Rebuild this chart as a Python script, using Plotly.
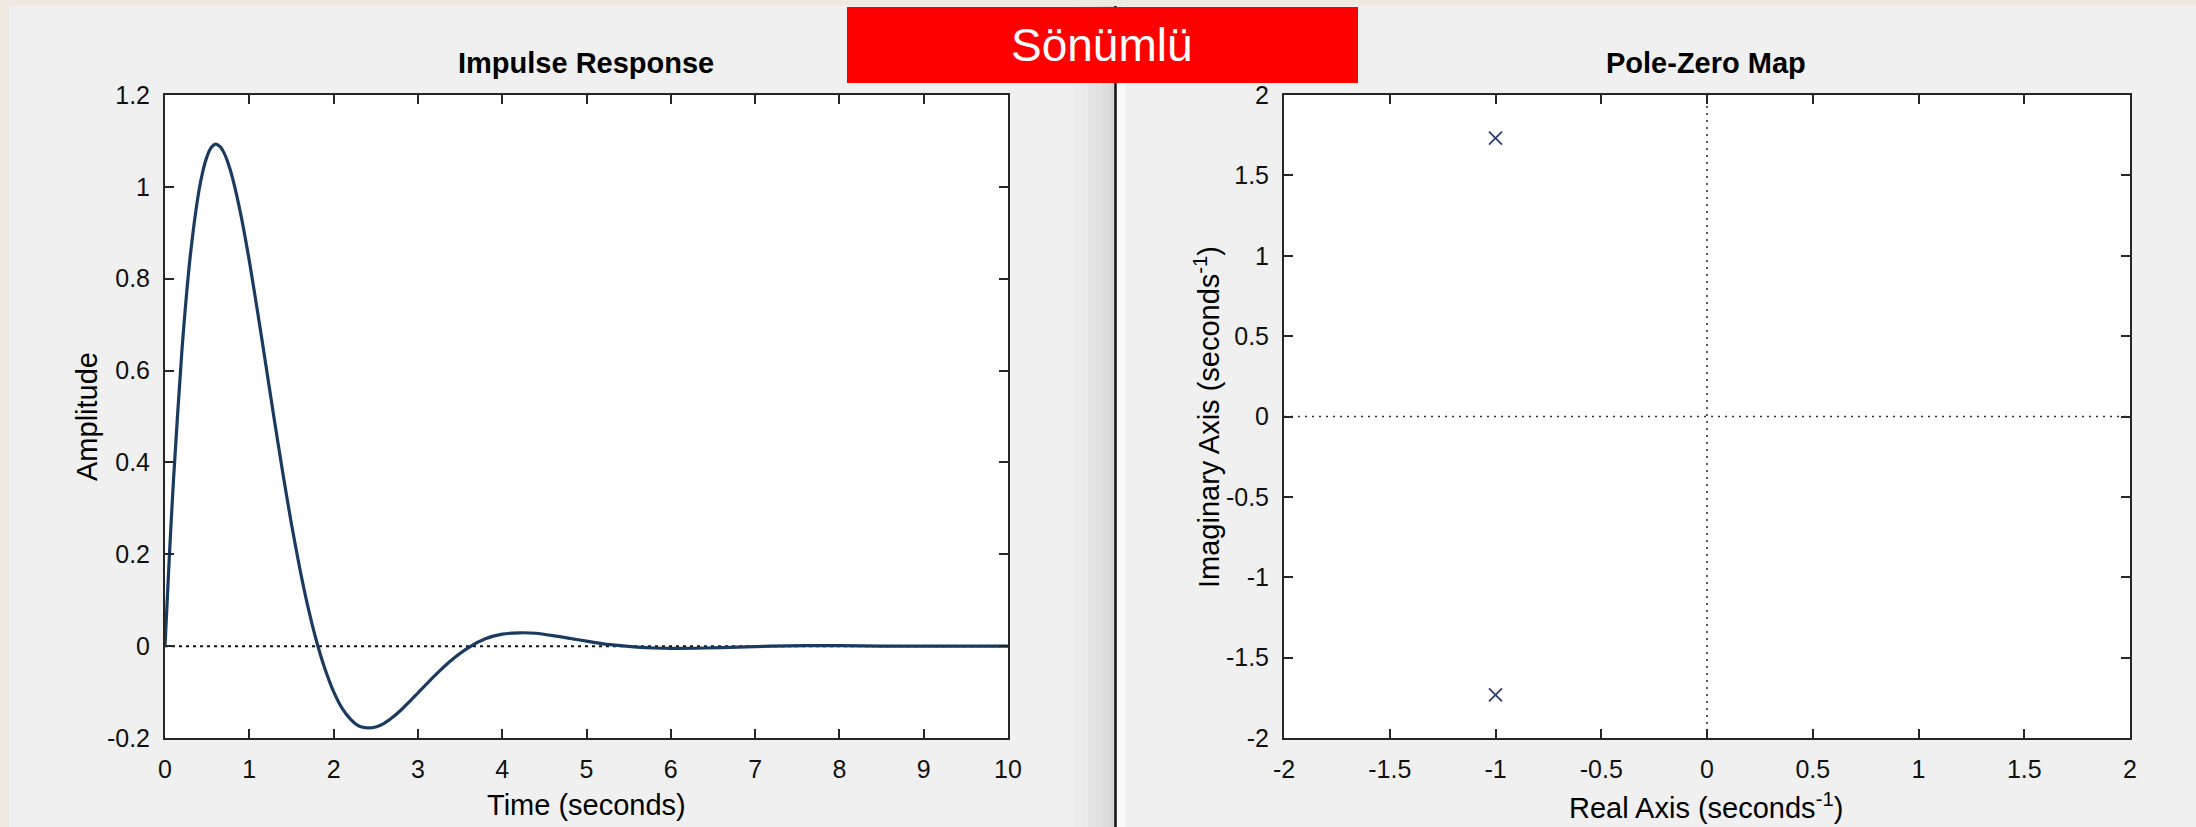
import plotly.graph_objects as go

# ---------------- data ----------------
t_vals = [0.0, 0.05, 0.1, 0.2, 0.3, 0.4, 0.45, 0.5, 0.55, 0.6, 0.65, 0.7, 0.75, 0.8, 0.9,
          1.0, 1.1, 1.2, 1.3, 1.4,
          1.5, 1.6, 1.7, 1.8, 1.9, 2.0, 2.1, 2.2, 2.3, 2.4, 2.5, 2.6, 2.7, 2.8, 2.9,
          3.0, 3.2, 3.4, 3.6, 3.8, 4.0, 4.2, 4.4, 4.6, 4.8, 5.0, 5.2, 5.4, 5.6, 5.8,
          6.0, 6.4, 6.8, 7.2, 7.6, 8.0, 8.5, 9.0, 9.5, 10.0]
amplitude = [0.0, 0.190, 0.360, 0.642, 0.850, 0.989, 1.035, 1.067, 1.086, 1.093, 1.088,
             1.074, 1.051, 1.020, 0.939,
             0.839, 0.726, 0.608, 0.489, 0.374, 0.266, 0.168, 0.082, 0.009, -0.051,
             -0.099, -0.135, -0.159, -0.174, -0.178, -0.176, -0.168, -0.155, -0.139,
             -0.121, -0.102, -0.064, -0.030, -0.003, 0.016, 0.026, 0.029, 0.028,
             0.023, 0.017, 0.011, 0.005, 0.001, -0.002, -0.004, -0.005, -0.004,
             -0.002, 0.000, 0.001, 0.001, 0.000, 0.000, 0.000, 0.000]

pole_real = [-1.0, -1.0]
pole_imag = [1.732, -1.732]

imp_xticks = [0, 1, 2, 3, 4, 5, 6, 7, 8, 9, 10]
imp_xlabels = ["0", "1", "2", "3", "4", "5", "6", "7", "8", "9", "10"]
imp_yticks = [-0.2, 0, 0.2, 0.4, 0.6, 0.8, 1.0, 1.2]
imp_ylabels = ["-0.2", "0", "0.2", "0.4", "0.6", "0.8", "1", "1.2"]
pz_ticks = [-2, -1.5, -1, -0.5, 0, 0.5, 1, 1.5, 2]
pz_labels = ["-2", "-1.5", "-1", "-0.5", "0", "0.5", "1", "1.5", "2"]

title_left = "Impulse Response"
title_right = "Pole-Zero Map"
banner_text = "Sönümlü"

# ---------------- figure ----------------
W, H = 2196, 827
FONT = "Arial, Liberation Sans, Helvetica, sans-serif"

def px(x):
    return x / W

def py(y):
    return 1 - y / H

fig = go.Figure()

fig.add_trace(go.Scatter(
    x=t_vals, y=amplitude, mode="lines",
    line=dict(color="#1b3a60", width=3.2, shape="spline", smoothing=0.6),
    xaxis="x", yaxis="y", showlegend=False, hoverinfo="skip"))

fig.add_trace(go.Scatter(
    x=pole_real, y=pole_imag, mode="markers",
    marker=dict(symbol="x-thin", size=13, line=dict(color="#2b3d6e", width=1.8), color="#2b3d6e"),
    xaxis="x2", yaxis="y2", showlegend=False, hoverinfo="skip"))

axis_common = dict(
    showgrid=False, zeroline=False, showline=True, linecolor="#262626", linewidth=2,
    mirror="ticks", ticks="inside", ticklen=9, tickwidth=1.6, tickcolor="#262626",
    tickmode="array", tickfont=dict(family=FONT, size=25, color="#111111"),
    ticklabelstandoff=8, fixedrange=True, automargin=False,
)

ydom = [py(738), py(95)]

fig.update_layout(
    template="none",
    width=W, height=H,
    margin=dict(l=0, r=0, t=0, b=0, pad=0, autoexpand=False),
    paper_bgcolor="#F0F0F0",
    plot_bgcolor="#FFFFFF",
    xaxis=dict(domain=[px(165), px(1008)], range=[0, 10], tickvals=imp_xticks, ticktext=imp_xlabels,
               anchor="y", **axis_common),
    yaxis=dict(domain=ydom, range=[-0.2, 1.2], tickvals=imp_yticks, ticktext=imp_ylabels,
               anchor="x", **axis_common),
    xaxis2=dict(domain=[px(1284), px(2130)], range=[-2, 2], tickvals=pz_ticks, ticktext=pz_labels,
                anchor="y2", **axis_common),
    yaxis2=dict(domain=ydom, range=[-2, 2], tickvals=pz_ticks, ticktext=pz_labels,
                anchor="x2", **axis_common),
)

shapes = []
# beige window frame (top and left strips)
shapes.append(dict(type="rect", xref="paper", yref="paper", x0=0, x1=1, y0=py(6), y1=1,
                   fillcolor="#EEEAE2", line=dict(width=0), layer="below"))
shapes.append(dict(type="rect", xref="paper", yref="paper", x0=0, x1=px(9), y0=0, y1=1,
                   fillcolor="#EEEAE2", line=dict(width=0), layer="below"))
# splitter shading
shade = ["#EDEDED", "#EAEAEA", "#E6E6E6", "#E2E2E2", "#DDDDDD", "#D7D7D7"]
x_start = 1074
step = 7
for i, c in enumerate(shade):
    shapes.append(dict(type="rect", xref="paper", yref="paper",
                       x0=px(x_start + i * step), x1=px(x_start + (i + 1) * step),
                       y0=0, y1=py(6), fillcolor=c, line=dict(width=0), layer="below"))
shapes.append(dict(type="rect", xref="paper", yref="paper", x0=px(1117), x1=px(1126),
                   y0=0, y1=py(6), fillcolor="#F9F9F9", line=dict(width=0), layer="below"))
# splitter line
shapes.append(dict(type="line", xref="paper", yref="paper", x0=px(1115.5), x1=px(1115.5),
                   y0=0, y1=py(6), line=dict(color="#111111", width=2.5)))
# dotted reference lines
shapes.append(dict(type="line", xref="x", yref="y", x0=0, x1=10, y0=0, y1=0,
                   line=dict(color="#111111", width=2, dash="3px,4px"), layer="below"))
shapes.append(dict(type="line", xref="x2", yref="y2", x0=-2, x1=2, y0=0, y1=0,
                   line=dict(color="#333333", width=1.6, dash="2px,5px"), layer="below"))
shapes.append(dict(type="line", xref="x2", yref="y2", x0=0, x1=0, y0=-2, y1=2,
                   line=dict(color="#333333", width=1.6, dash="2px,5px"), layer="below"))
# red banner
shapes.append(dict(type="rect", xref="paper", yref="paper", x0=px(847), x1=px(1358),
                   y0=py(83), y1=py(7), fillcolor="#FF0000", line=dict(width=0), layer="above"))
fig.update_layout(shapes=shapes)

ann = []
def add_text(text, x, y, size, bold=False, angle=0, color="#000000"):
    ann.append(dict(text=("<b>%s</b>" % text) if bold else text, xref="paper", yref="paper",
                    x=px(x), y=py(y), xanchor="center", yanchor="middle", showarrow=False,
                    textangle=angle, font=dict(family=FONT, size=size, color=color)))

add_text(banner_text, 1102, 45, 46, color="#FFFFFF")
add_text(title_left, 586, 63, 29, bold=True)
add_text(title_right, 1706, 63, 29, bold=True)
add_text("Time (seconds)", 586, 805, 29)
add_text("Amplitude", 87, 417, 29, angle=-90)
add_text("Real Axis (seconds<sup>-1</sup>)", 1706, 806, 29)
add_text("Imaginary Axis (seconds<sup>-1</sup>)", 1207, 417, 29, angle=-90)
fig.update_layout(annotations=ann)

post = ("document.documentElement.style.margin='0';document.body.style.margin='0';"
        "document.body.style.padding='0';document.body.style.overflow='hidden';"
        "var gd=document.getElementById('{plot_id}');gd.style.position='fixed';"
        "gd.style.left='0px';gd.style.top='0px';window.scrollTo(0,0);")
fig.write_html("out.html", config={"displayModeBar": False}, post_script=post)
